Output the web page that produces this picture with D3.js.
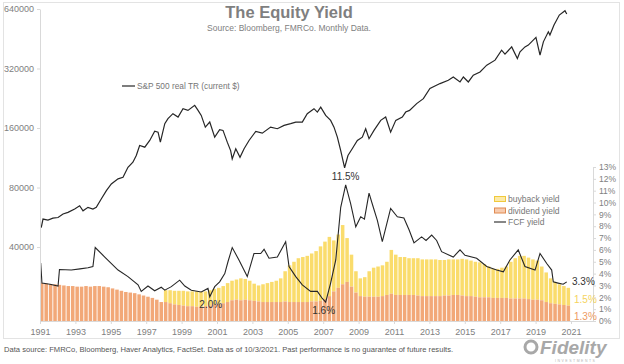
<!DOCTYPE html>
<html>
<head>
<meta charset="utf-8">
<script src="https://cdn.jsdelivr.net/npm/d3@7"></script>
<style>
  body { margin: 0; background: #fff; }
  svg { display: block; font-family: "Liberation Sans", Arial, sans-serif; }
</style>
</head>
<body>
<div id="chart"></div>
<script>
// Axis labels.
var yearLabels = [1991, 1993, 1995, 1997, 1999, 2001, 2003, 2005, 2007, 2009, 2011, 2013, 2015, 2017, 2019, 2021];
var spxTicks = [40000, 80000, 160000, 320000, 640000];
var yieldTicks = [0, 1, 2, 3, 4, 5, 6, 7, 8, 9, 10, 11, 12, 13];

// S&P 500 real TR (current $), decimal years.
var spxDates = [1991.07, 1991.17, 1991.45, 1991.73, 1992.02, 1992.30, 1992.58, 1992.96, 1993.24, 1993.43,
    1993.71, 1993.99, 1994.18, 1994.46, 1994.75, 1995.03, 1995.41, 1995.69, 1995.97, 1996.25,
    1996.44, 1996.63, 1996.92, 1997.20, 1997.48, 1997.67, 1997.80, 1998.05, 1998.23, 1998.51,
    1998.80, 1999.08, 1999.36, 1999.74, 1999.93, 2000.11, 2000.34, 2000.59, 2000.87, 2001.15,
    2001.34, 2001.58, 2001.77, 2001.86, 2002.06, 2002.30, 2002.53, 2002.81, 2003.19, 2003.56,
    2004.03, 2004.41, 2004.79, 2005.16, 2005.45, 2005.82, 2006.10, 2006.48, 2006.67, 2006.86,
    2007.14, 2007.42, 2007.61, 2007.80, 2007.99, 2008.21, 2008.40, 2008.64, 2008.93, 2009.21,
    2009.40, 2009.59, 2009.87, 2010.25, 2010.53, 2010.81, 2011.10, 2011.47, 2011.66, 2011.88,
    2012.28, 2012.66, 2013.03, 2013.60, 2014.07, 2014.35, 2014.73, 2014.92, 2015.20, 2015.48,
    2015.86, 2016.24, 2016.71, 2017.08, 2017.27, 2017.65, 2017.97, 2018.12, 2018.40, 2018.59,
    2019.02, 2019.25, 2019.44, 2019.72, 2019.81, 2020.04, 2020.34, 2020.66, 2020.76];
var spxValues = [50200, 55400, 54800, 56000, 56400, 58800, 59900, 62300, 64700, 61000,
    63500, 62300, 63500, 70000, 77200, 83400, 88500, 90200, 101300, 107400,
    116200, 130600, 128000, 138400, 154300, 152500, 135700, 168300, 178400, 189100,
    181800, 200400, 196500, 208300, 196500, 185300, 161700, 171500, 143800, 156800,
    155600, 135700, 123000, 111700, 125600, 113800, 125600, 138400, 153800, 150700,
    161700, 158700, 165000, 168300, 171500, 171500, 189100, 200400, 192700, 204200,
    185300, 174900, 161700, 143800, 123000, 100700, 116200, 125600, 138400, 143800,
    158700, 141300, 155600, 174900, 181800, 152500, 174900, 181800, 192700, 196500,
    212600, 225300, 253400, 268500, 279000, 289900, 273600, 289900, 273600, 296000,
    307500, 332800, 352600, 396100, 378200, 411500, 359700, 388500, 411500, 420500,
    459500, 373800, 436500, 490900, 472300, 530600, 596500, 627300, 603500];

// FCF yield, %.
var fcfDates = [1991.04, 1991.11, 1991.56, 1992.02, 1992.10, 1992.77, 1993.26, 1993.71, 1993.99, 1994.12,
    1994.66, 1995.41, 1995.97, 1996.54, 1996.72, 1997.10, 1997.48, 1997.85, 1998.05, 1998.42,
    1998.89, 1999.18, 1999.55, 2000.11, 2000.49, 2000.59, 2000.87, 2001.15, 2001.44, 2001.62,
    2001.86, 2002.24, 2002.71, 2003.09, 2003.47, 2003.66, 2003.94, 2004.41, 2004.88, 2005.07,
    2005.45, 2005.82, 2006.29, 2006.67, 2006.95, 2007.14, 2007.42, 2007.71, 2007.99, 2008.27,
    2008.55, 2008.84, 2009.12, 2009.33, 2009.59, 2009.77, 2010.06, 2010.34, 2010.81, 2011.19,
    2011.56, 2011.85, 2012.13, 2012.56, 2012.81, 2013.13, 2013.41, 2013.69, 2014.35, 2014.73,
    2015.01, 2015.67, 2016.24, 2016.80, 2017.18, 2017.55, 2018.02, 2018.40, 2018.97, 2019.25,
    2019.63, 2019.91, 2020.00, 2020.27, 2020.56, 2020.76];
var fcfYield = [4.9, 3.2, 3.1, 2.95, 4.35, 4.3, 4.4, 4.5, 4.6, 6.2,
    5.4, 4.3, 3.75, 3.05, 2.5, 2.95, 2.55, 2.85, 2.6, 2.9,
    3.45, 2.95, 2.6, 2.45, 2.75, 2.05, 2.9, 3.3, 4.0, 5.0,
    6.2, 5.15, 3.75, 5.7, 5.7, 6.05, 5.3, 5.4, 6.7, 4.6,
    3.75, 3.05, 2.5, 2.5, 1.9, 1.6, 3.2, 5.15, 9.6, 11.5,
    9.9, 7.95, 8.8, 8.6, 10.8, 9.9, 8.5, 6.7, 9.5, 8.8,
    8.7, 7.7, 6.6, 7.1, 6.8, 7.25, 6.8, 5.85, 5.4, 6.0,
    5.55, 5.3, 4.6, 4.3, 4.15, 5.15, 6.0, 4.6, 4.3, 5.7,
    4.85, 4.3, 3.3, 3.2, 3.1, 3.3];

// Dividend yield, % by quarter, one row per year from 1991.
var dividendStart = 1991;
var dividendYield = [
    [3.2, 3.15, 3.1, 3.1], [3.05, 3.0, 2.95, 2.95], [2.9, 2.9, 2.95, 2.9], [2.95, 2.95, 2.9, 2.85],
    [2.75, 2.65, 2.55, 2.45], [2.4, 2.35, 2.25, 2.15], [2.05, 1.95, 1.8, 1.6], [1.6, 1.5, 1.4, 1.35],
    [1.3, 1.25, 1.25, 1.2], [1.2, 1.25, 1.3, 1.4], [1.45, 1.5, 1.6, 1.75], [1.8, 1.75, 1.8, 1.75],
    [1.7, 1.65, 1.6, 1.6], [1.6, 1.6, 1.6, 1.65], [1.6, 1.6, 1.6, 1.6], [1.6, 1.65, 1.65, 1.7],
    [1.85, 2.1, 2.5, 2.8], [3.1, 3.3, 2.9, 2.4], [2.1, 2.05, 2.05, 2.05], [2.05, 2.1, 2.2, 2.3],
    [2.2, 2.2, 2.2, 2.2], [2.2, 2.15, 2.1, 2.1], [2.1, 2.1, 2.1, 2.15], [2.15, 2.2, 2.2, 2.15],
    [2.1, 2.1, 2.05, 2.0], [2.0, 2.0, 1.95, 1.95], [1.95, 1.95, 1.9, 1.9], [1.9, 1.9, 1.85, 1.8],
    [1.8, 1.75, 1.6, 1.5], [1.45, 1.4, 1.35, 1.3]
];

// Buyback yield, % by quarter, one row per year from 1998.
var buybackStart = 1998;
var buybackYield = [
    [1.0, 1.1, 1.15, 1.2], [1.25, 1.25, 1.25, 1.3], [1.25, 1.25, 1.3, 1.3], [1.35, 1.45, 1.6, 1.65],
    [1.7, 1.85, 1.75, 1.65], [1.45, 1.35, 1.5, 1.6], [1.7, 1.8, 2.0, 2.55], [3.1, 3.4, 3.7, 3.8],
    [3.9, 4.05, 4.25, 4.6], [4.85, 5.0, 4.3, 4.5], [5.0, 3.7, 2.7, 1.8], [1.5, 1.65, 2.15, 2.45],
    [2.55, 2.6, 2.8, 3.7], [3.4, 3.2, 3.2, 3.1], [3.1, 3.15, 3.1, 3.1], [3.1, 3.1, 3.05, 3.0],
    [3.05, 3.0, 3.0, 3.1], [3.1, 3.0, 2.95, 2.95], [2.8, 2.6, 2.45, 2.45], [2.55, 2.65, 3.1, 3.4],
    [3.6, 3.6, 3.5, 3.4], [3.3, 2.85, 2.5, 2.1], [1.85, 1.7, 1.6, 1.5]
];

var width = 624, height = 364;
var yellow = '#fadc6c', orange = '#f2a878', ink = '#262626', gray = '#808080';

var svg = d3.select('#chart').append('svg')
    .attr('width', width)
    .attr('height', height);

// Outer frame.
svg.append('rect')
    .attr('x', 3.5).attr('y', 2.5)
    .attr('width', 616).attr('height', 336)
    .attr('fill', 'none').attr('stroke', '#e3e3e3');

var x = d3.scaleLinear().domain([1991, 2022.3]).range([40, 594]);
var ySpx = d3.scaleLog().base(2).domain([16900, 640000]).range([321, 9]);
var yPct = d3.scaleLinear().domain([0, 13]).range([321, 167]);

// Stacked quarterly bars.
var bars = [];
dividendYield.forEach(function(row, i) {
    var yr = dividendStart + i;
    row.forEach(function(d, q) {
        var bRow = buybackYield[yr - buybackStart];
        bars.push({ t: yr + q / 4, div: d, bb: bRow ? bRow[q] : 0 });
    });
});

var barW = x(1991.25) - x(1991) - 0.9;
var gBars = svg.append('g');

gBars.selectAll('.bb')
    .data(bars.filter(function(d) { return d.bb > 0; }))
    .enter().append('rect')
    .attr('class', 'bb')
    .attr('x', function(d) { return x(d.t); })
    .attr('width', barW)
    .attr('y', function(d) { return yPct(d.div + d.bb); })
    .attr('height', function(d) { return yPct(d.div) - yPct(d.div + d.bb); })
    .attr('fill', yellow);

gBars.selectAll('.div')
    .data(bars)
    .enter().append('rect')
    .attr('class', 'div')
    .attr('x', function(d) { return x(d.t); })
    .attr('width', barW)
    .attr('y', function(d) { return yPct(d.div); })
    .attr('height', function(d) { return yPct(0) - yPct(d.div); })
    .attr('fill', orange);

// Lines.
var fcfLine = d3.line()
    .x(function(d, i) { return x(fcfDates[i]); })
    .y(function(d) { return yPct(d); });

svg.append('path')
    .attr('d', fcfLine(fcfYield))
    .attr('fill', 'none')
    .attr('stroke', ink)
    .attr('stroke-width', 1.1);

var spxLine = d3.line()
    .x(function(d, i) { return x(spxDates[i]); })
    .y(function(d) { return ySpx(d); });

svg.append('path')
    .attr('d', spxLine(spxValues))
    .attr('fill', 'none')
    .attr('stroke', ink)
    .attr('stroke-width', 1.2);

// Axes.
function styleAxis(g) {
    g.selectAll('path, line').attr('stroke', '#d9d9d9');
    g.selectAll('text').attr('fill', gray).style('font-size', '9px');
}

svg.append('g')
    .attr('transform', 'translate(40,0)')
    .call(d3.axisLeft(ySpx).tickValues(spxTicks).tickFormat(d3.format('d')).tickSize(3).tickSizeOuter(0))
    .call(styleAxis);

svg.append('g')
    .attr('transform', 'translate(0,321)')
    .call(d3.axisBottom(x).tickValues(yearLabels).tickFormat(d3.format('d')).tickSize(3).tickSizeOuter(0))
    .call(styleAxis)
    .selectAll('text').attr('dy', '0.9em');

svg.append('g')
    .attr('transform', 'translate(593,0)')
    .call(d3.axisRight(yPct).tickValues(yieldTicks).tickFormat(function(d) { return d + '%'; }).tickSize(3).tickSizeOuter(0))
    .call(styleAxis)
    .selectAll('text').style('font-size', '8.5px');

// Titles.
svg.append('text')
    .attr('x', 289).attr('y', 18)
    .attr('text-anchor', 'middle')
    .attr('fill', '#7f7f7f')
    .style('font-size', '16.5px').style('font-weight', 'bold')
    .text('The Equity Yield');

svg.append('text')
    .attr('x', 289).attr('y', 31)
    .attr('text-anchor', 'middle')
    .attr('fill', gray)
    .style('font-size', '8.5px')
    .text('Source: Bloomberg, FMRCo.  Monthly Data.');

// Legends.
svg.append('line')
    .attr('x1', 122).attr('x2', 135).attr('y1', 86).attr('y2', 86)
    .attr('stroke', ink).attr('stroke-width', 1.2);
svg.append('text')
    .attr('x', 137).attr('y', 89)
    .attr('fill', '#767676')
    .style('font-size', '8.3px')
    .text('S&P 500 real TR (current $)');

var legend = [
    { label: 'buyback yield', color: yellow, stroke: '#f0c93c', type: 'rect' },
    { label: 'dividend yield', color: orange, stroke: '#e08a50', type: 'rect' },
    { label: 'FCF yield', color: ink, type: 'line' }
];
var lg = svg.append('g').attr('transform', 'translate(494,199)');
legend.forEach(function(d, i) {
    var row = lg.append('g').attr('transform', 'translate(0,' + (i * 11.5) + ')');
    if (d.type == 'rect') {
        row.append('rect').attr('x', 0.5).attr('y', -2.5).attr('width', 11).attr('height', 5)
            .attr('fill', d.color).attr('fill-opacity', 0.6).attr('stroke', d.stroke);
    } else {
        row.append('line').attr('x1', 0).attr('x2', 12).attr('y1', 0).attr('y2', 0)
            .attr('stroke', d.color).attr('stroke-width', 1.1);
    }
    row.append('text').attr('x', 14).attr('y', 3)
        .attr('fill', '#767676').style('font-size', '8.5px').text(d.label);
});

// Value annotations.
var last = bars[bars.length - 1];
var notes = [
    { text: '11.5%', x: x(2008.27), y: yPct(11.5) - 5, anchor: 'middle', color: '#333' },
    { text: '2.0%', x: x(2000.59) + 1, y: yPct(2.05) + 11, anchor: 'middle', color: '#333' },
    { text: '1.6%', x: x(2007.14) - 2, y: yPct(1.6) + 12, anchor: 'middle', color: '#333' },
    { text: '3.3%', x: 572, y: yPct(3.3) + 3.5, anchor: 'start', color: '#333' },
    { text: last.bb.toFixed(1) + '%', x: 574, y: yPct(last.div + last.bb / 2) + 6, anchor: 'start', color: '#f5d35c' },
    { text: last.div.toFixed(1) + '%', x: 574, y: yPct(last.div / 2) + 7, anchor: 'start', color: '#ee9a60' }
];
svg.selectAll('.note')
    .data(notes)
    .enter().append('text')
    .attr('class', 'note')
    .attr('x', function(d) { return d.x; })
    .attr('y', function(d) { return d.y; })
    .attr('text-anchor', function(d) { return d.anchor; })
    .attr('fill', function(d) { return d.color; })
    .style('font-size', '10px')
    .text(function(d) { return d.text; });

// Footer.
svg.append('text')
    .attr('x', 4).attr('y', 352)
    .attr('fill', '#555')
    .style('font-size', '7.6px')
    .text('Data source: FMRCo, Bloomberg, Haver Analytics, FactSet. Data as of 10/3/2021. Past performance is no guarantee of future results.');

// Fidelity mark.
var logo = svg.append('g').attr('transform', 'translate(531,347)');
logo.append('circle').attr('r', 6).attr('fill', 'none').attr('stroke', '#a8a8a8').attr('stroke-width', 3);
logo.append('text').attr('x', 9).attr('y', 7)
    .attr('fill', '#a8a8a8')
    .style('font-size', '19px').style('font-weight', 'bold').style('font-style', 'italic')
    .text('Fidelity');
logo.append('text').attr('x', 24).attr('y', 15)
    .attr('fill', '#b5b5b5')
    .style('font-size', '3.5px').style('letter-spacing', '1.5px')
    .text('INVESTMENTS');
</script>
</body>
</html>
